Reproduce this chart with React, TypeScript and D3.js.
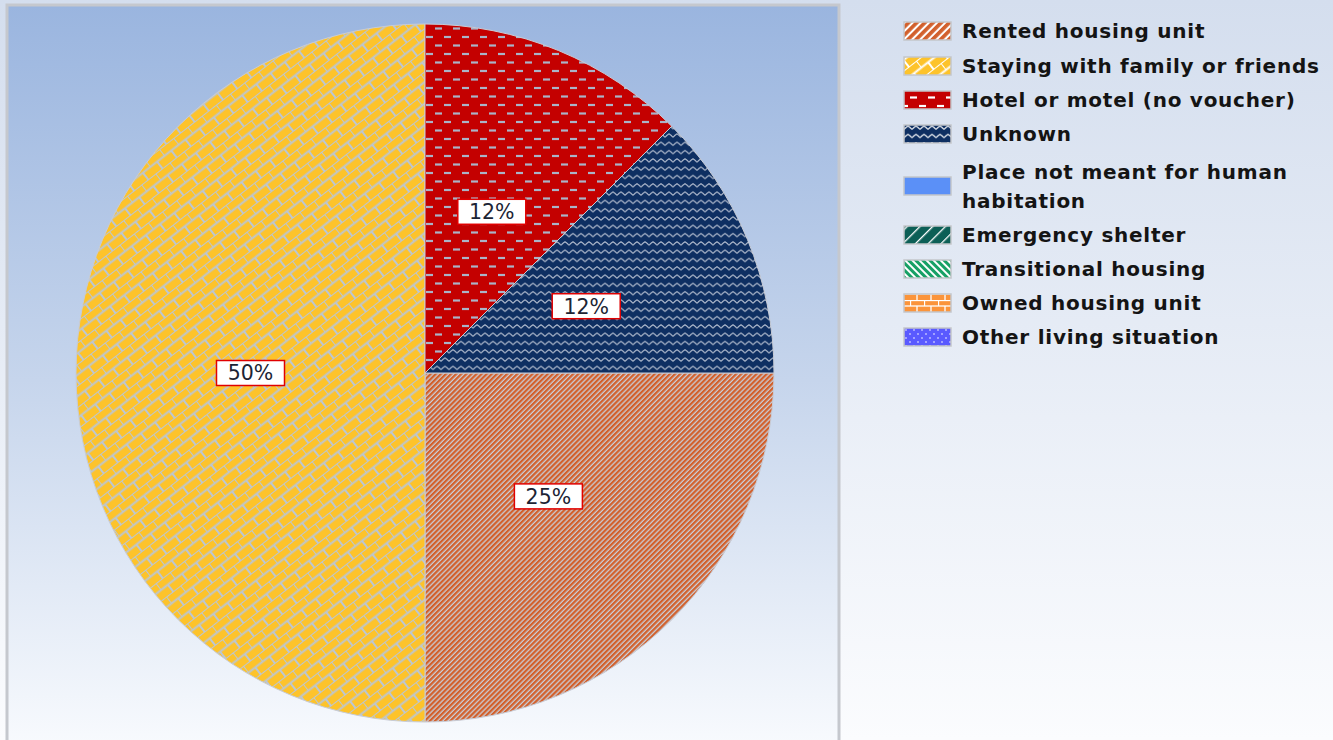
import * as d3 from 'd3';

// chart data
const categories = [
  'Rented housing unit',
  'Staying with family or friends',
  'Hotel or motel (no voucher)',
  'Unknown',
  'Place not meant for human habitation',
  'Emergency shelter',
  'Transitional housing',
  'Owned housing unit',
  'Other living situation',
];
const values = [2, 4, 1, 1, 0, 0, 0, 0, 0];
const legendLines = [
  ['Rented housing unit'],
  ['Staying with family or friends'],
  ['Hotel or motel (no voucher)'],
  ['Unknown'],
  ['Place not meant for human', 'habitation'],
  ['Emergency shelter'],
  ['Transitional housing'],
  ['Owned housing unit'],
  ['Other living situation'],
];
const legendRowY = [31, 66, 100, 134, 186, 235, 269, 303, 337];
const baseColors = ['#d2602c', '#fdc32b', '#c40000', '#0e2f62', '#5b90f7', '#0c5f56', '#17a065', '#fb943a', '#5a5aff'];
const hatchKinds = ['updiag', 'diagbrick', 'dashh', 'wave', 'solid', 'wideup', 'widedown', 'hbrick', 'dots'];
const pieLineColors = ['#c9ced8', '#bcc6d2', '#aab4c8', '#b4bed0'];

const W = 1333;
const H = 740;
const cx = 425;
const cy = 373;
const radius = 349;

function Hatch({ id, kind, color, line, s }: { id: string; kind: string; color: string; line: string; s: number }) {
  switch (kind) {
    case 'updiag':
      return (
        <pattern id={id} patternUnits="userSpaceOnUse" width={3.6 * s} height={10} patternTransform="rotate(45)">
          <rect width={3.6 * s} height={10} fill={line} />
          <rect width={2.3 * s} height={10} fill={color} />
        </pattern>
      );
    case 'diagbrick':
      return (
        <pattern id={id} patternUnits="userSpaceOnUse" width={18 * s} height={17 * s} patternTransform="rotate(-38)">
          <rect width={18 * s} height={17 * s} fill={color} />
          <g stroke={line} strokeWidth={2}>
            <line x1={0} y1={0} x2={18 * s} y2={0} />
            <line x1={0} y1={8.5 * s} x2={18 * s} y2={8.5 * s} />
            <line x1={0} y1={0} x2={0} y2={8.5 * s} />
            <line x1={9 * s} y1={8.5 * s} x2={9 * s} y2={17 * s} />
          </g>
        </pattern>
      );
    case 'dashh':
      return (
        <pattern id={id} patternUnits="userSpaceOnUse" width={18 * s} height={17 * s}>
          <rect width={18 * s} height={17 * s} fill={color} />
          <g stroke={line} strokeWidth={2.2}>
            <line x1={1 * s} y1={4 * s} x2={8 * s} y2={4 * s} />
            <line x1={10 * s} y1={12.5 * s} x2={17 * s} y2={12.5 * s} />
          </g>
        </pattern>
      );
    case 'wave':
      return (
        <pattern id={id} patternUnits="userSpaceOnUse" width={8 * s} height={8.3 * s}>
          <rect width={8 * s} height={8.3 * s} fill={color} />
          <path
            d={`M0 ${5 * s} L${2 * s} ${3 * s} L${4 * s} ${1.6 * s} L${6 * s} ${3 * s} L${8 * s} ${5 * s}`}
            fill="none"
            stroke={line}
            strokeWidth={1.1}
          />
        </pattern>
      );
    case 'wideup':
      return (
        <pattern id={id} patternUnits="userSpaceOnUse" width={9 * s} height={10} patternTransform="rotate(45)">
          <rect width={9 * s} height={10} fill={color} />
          <rect width={1.3} height={10} fill={line} />
        </pattern>
      );
    case 'widedown':
      return (
        <pattern id={id} patternUnits="userSpaceOnUse" width={5 * s} height={10} patternTransform="rotate(-45)">
          <rect width={5 * s} height={10} fill={color} />
          <rect width={2 * s} height={10} fill={line} />
        </pattern>
      );
    case 'hbrick':
      return (
        <pattern id={id} patternUnits="userSpaceOnUse" width={14 * s} height={12 * s}>
          <rect width={14 * s} height={12 * s} fill={color} />
          <g stroke={line} strokeWidth={1.3}>
            <line x1={0} y1={0.5} x2={14 * s} y2={0.5} />
            <line x1={0} y1={6 * s} x2={14 * s} y2={6 * s} />
            <line x1={0.5} y1={0} x2={0.5} y2={6 * s} />
            <line x1={7 * s} y1={6 * s} x2={7 * s} y2={12 * s} />
          </g>
        </pattern>
      );
    case 'dots':
      return (
        <pattern id={id} patternUnits="userSpaceOnUse" width={8 * s} height={8 * s}>
          <rect width={8 * s} height={8 * s} fill={color} />
          <circle cx={2 * s} cy={2 * s} r={0.8} fill={line} />
          <circle cx={6 * s} cy={6 * s} r={0.8} fill={line} />
        </pattern>
      );
    default:
      return (
        <pattern id={id} patternUnits="userSpaceOnUse" width={4} height={4}>
          <rect width={4} height={4} fill={color} />
        </pattern>
      );
  }
}

export default function App() {
  const total = d3.sum(values);
  // start at 3 o'clock, go clockwise
  const pie = d3
    .pie<number>()
    .sort(null)
    .startAngle(Math.PI / 2)
    .endAngle(Math.PI / 2 + 2 * Math.PI);
  const arcs = pie(values).filter((a) => a.value > 0);
  const arc = d3.arc<d3.PieArcDatum<number>>().innerRadius(0).outerRadius(radius);
  const labelArc = d3.arc<d3.PieArcDatum<number>>().innerRadius(radius * 0.5).outerRadius(radius * 0.5);

  return (
    <svg width={W} height={H} style={{ position: 'absolute', left: 0, top: 0 }} fontFamily="'DejaVu Sans', Tahoma, sans-serif">
      <defs>
        <linearGradient id="outerBg" x1="0" y1="0" x2="0" y2="1">
          <stop offset="0" stopColor="#d4deee" />
          <stop offset="1" stopColor="#fbfcfe" />
        </linearGradient>
        <linearGradient id="plotBg" x1="0" y1="0" x2="0" y2="1">
          <stop offset="0" stopColor="#9ab5df" />
          <stop offset="0.5" stopColor="#c6d5ec" />
          <stop offset="1" stopColor="#f9fbfe" />
        </linearGradient>
        {categories.map((c, i) => (
          <Hatch key={'p' + i} id={'pat' + i} kind={hatchKinds[i]} color={baseColors[i]} line={pieLineColors[i] ?? '#ffffff'} s={1} />
        ))}
        {categories.map((c, i) => (
          <Hatch key={'l' + i} id={'lpat' + i} kind={hatchKinds[i]} color={baseColors[i]} line="#ffffff" s={i === 0 ? 1.6 : 1} />
        ))}
      </defs>

      <rect x={0} y={0} width={W} height={H} fill="url(#outerBg)" />
      <rect x={7} y={5} width={832} height={H + 10} fill="url(#plotBg)" stroke="#c5c8ce" strokeWidth={3} />

      <g transform={`translate(${cx},${cy})`}>
        {arcs.map((a) => (
          <path key={a.index} d={arc(a)!} fill={`url(#pat${a.index})`} stroke="#c8ccd6" strokeWidth={1} />
        ))}
        {arcs.map((a) => {
          const [lx, ly] = labelArc.centroid(a);
          return (
            <g key={'t' + a.index} transform={`translate(${lx},${ly})`}>
              <rect x={-34} y={-12.5} width={68} height={25} fill="#ffffff" stroke="#e00000" strokeWidth={1.5} />
              <text textAnchor="middle" dy="0.36em" fontSize={20.5} fill="#1c2434">
                {Math.floor((a.value / total) * 100)}%
              </text>
            </g>
          );
        })}
      </g>

      <g>
        {legendLines.map((lines, i) => {
          const y = legendRowY[i];
          return (
            <g key={'lg' + i}>
              <rect x={904} y={y - 9} width={47} height={18} fill={`url(#lpat${i})`} stroke="#c4c6ca" strokeWidth={1.5} />
              {lines.map((t, j) => (
                <text
                  key={j}
                  x={962}
                  y={lines.length > 1 ? y - 14 + j * 29 : y}
                  dy="0.36em"
                  fontSize={20}
                  fontWeight="bold"
                  letterSpacing={0.75}
                  fill="#141414"
                >
                  {t}
                </text>
              ))}
            </g>
          );
        })}
      </g>
    </svg>
  );
}
